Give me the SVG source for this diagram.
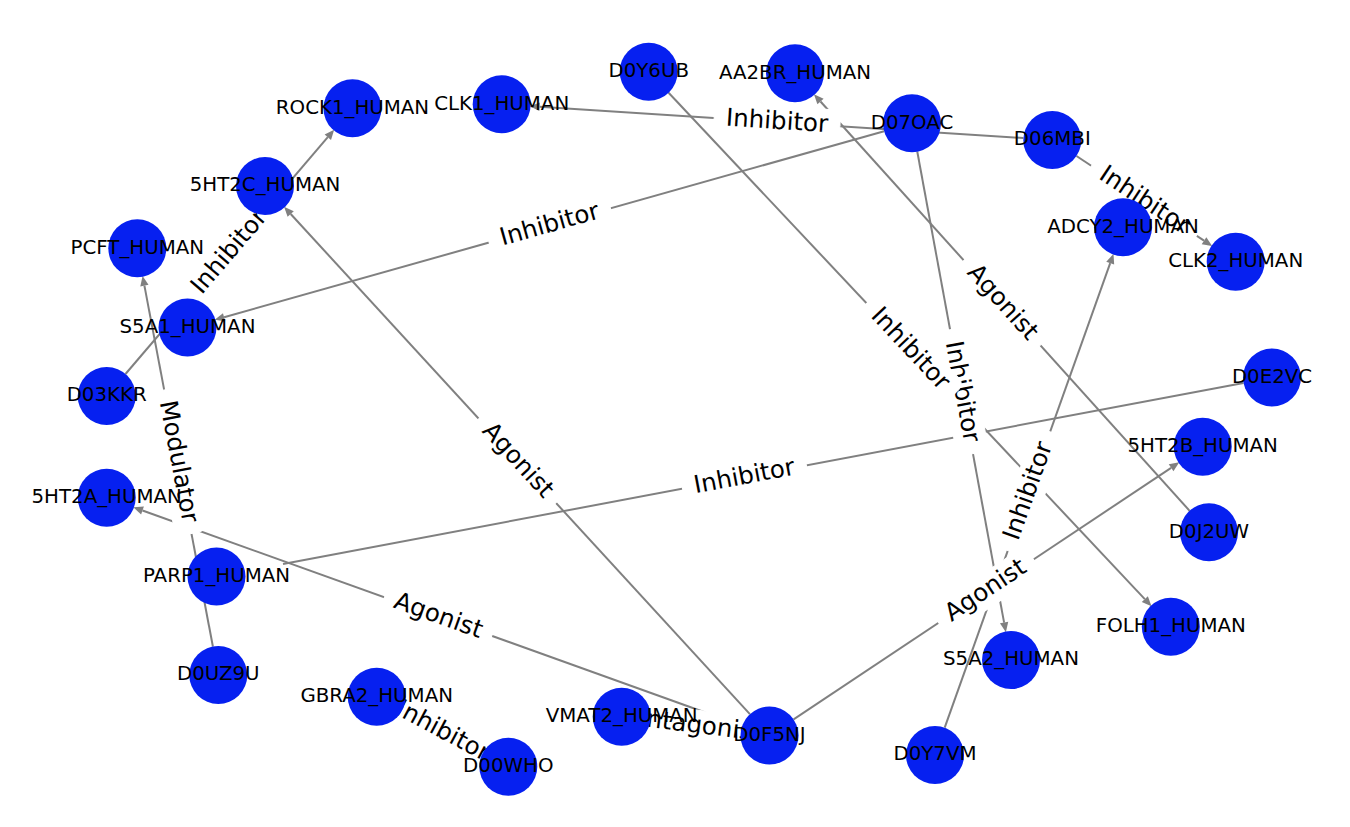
<svg xmlns="http://www.w3.org/2000/svg" width="1350" height="827" viewBox="0 0 1350 827">
<style>
.e{stroke:#808080;stroke-width:2;fill:none}
.ea{stroke:#808080;stroke-width:2;fill:none;marker-end:url(#arr)}
.lb rect{fill:#fff;stroke:#fff}
.lb text{font-family:"DejaVu Sans","Liberation Sans",sans-serif;font-size:24.5px;text-anchor:middle;fill:#000}
.n circle{fill:#0620f0}
.n text{font-family:"DejaVu Sans","Liberation Sans",sans-serif;font-size:19.8px;text-anchor:middle;fill:#000}
</style>
<defs>
<marker id="arr" markerUnits="userSpaceOnUse" markerWidth="10" markerHeight="10" viewBox="0 0 10 10" refX="0" refY="5" orient="auto" overflow="visible">
<path d="M0,0.8 L9.8,5 L0,9.2 z" fill="#808080"/>
</marker>
</defs>
<rect width="1350" height="827" fill="#fff"/>
<g id="edges">
<line class="ea" x1="125.5" y1="374" x2="327.8" y2="137.2"/>
<line class="ea" x1="1023.4" y1="138.1" x2="539.6" y2="106.8"/>
<line class="ea" x1="884.1" y1="131.2" x2="224.1" y2="317.2"/>
<line class="ea" x1="668.6" y1="92.8" x2="1144.8" y2="599.1"/>
<line class="ea" x1="1189.6" y1="510.8" x2="820.5" y2="101.5"/>
<line class="ea" x1="917.3" y1="151.8" x2="1004.1" y2="622.6"/>
<line class="ea" x1="944.7" y1="727.7" x2="1110.2" y2="263.1"/>
<line class="ea" x1="793.6" y1="719.4" x2="1171.1" y2="467.8"/>
<line class="ea" x1="749.9" y1="714.1" x2="290.7" y2="214"/>
<line class="e" x1="1243.5" y1="382.9" x2="283" y2="564"/>
<line class="ea" x1="212.9" y1="646.5" x2="144.4" y2="285.6"/>
<line class="ea" x1="742.2" y1="725.7" x2="142.5" y2="510.5"/>
<line class="ea" x1="1076.5" y1="156" x2="1204" y2="240.7"/>
<line class="ea" x1="482.7" y1="753.1" x2="410.2" y2="714.5"/>
<line class="ea" x1="740.7" y1="731.8" x2="659.4" y2="721.5"/>
</g>
<g id="edge-labels">
<g class="lb" transform="translate(229.8,252.2) rotate(-49.5)"><rect x="-63" y="-16" width="126" height="32" rx="8"/><text y="6.6">Inhibitor</text></g>
<g class="lb" transform="translate(777,122.2) rotate(3.7)"><rect x="-63" y="-16" width="126" height="32" rx="8"/><text y="6.6">Inhibitor</text></g>
<g class="lb" transform="translate(549.8,225.4) rotate(-15.7)"><rect x="-63" y="-16" width="126" height="32" rx="8"/><text y="6.6">Inhibitor</text></g>
<g class="lb" transform="translate(961.5,391.7) rotate(79.5)"><rect x="-63" y="-16" width="126" height="32" rx="8"/><text y="6.6">Inhibitor</text></g>
<g class="lb" transform="translate(909.8,349.3) rotate(46.8)"><rect x="-63" y="-16" width="126" height="32" rx="8"/><text y="6.6">Inhibitor</text></g>
<g class="lb" transform="translate(1002,302.8) rotate(48)"><rect x="-57" y="-16" width="114" height="32" rx="8"/><text y="6.6">Agonist</text></g>
<g class="lb" transform="translate(1029,491.2) rotate(-70.4)"><rect x="-63" y="-16" width="126" height="32" rx="8"/><text y="6.6">Inhibitor</text></g>
<g class="lb" transform="translate(986,591) rotate(-33.7)"><rect x="-57" y="-16" width="114" height="32" rx="8"/><text y="6.6">Agonist</text></g>
<g class="lb" transform="translate(517.3,460.8) rotate(47.4)"><rect x="-57" y="-16" width="114" height="32" rx="8"/><text y="6.6">Agonist</text></g>
<g class="lb" transform="translate(744.5,477.3) rotate(-10.7)"><rect x="-63" y="-16" width="126" height="32" rx="8"/><text y="6.6">Inhibitor</text></g>
<g class="lb" transform="translate(177.8,461.7) rotate(79.3)"><rect x="-73" y="-16" width="146" height="32" rx="8"/><text y="6.6">Modulator</text></g>
<g class="lb" transform="translate(438.1,616.6) rotate(19.7)"><rect x="-57" y="-16" width="114" height="32" rx="8"/><text y="6.6">Agonist</text></g>
<g class="lb" transform="translate(1144,200.8) rotate(33.6)"><rect x="-63" y="-16" width="126" height="32" rx="8"/><text y="6.6">Inhibitor</text></g>
<g class="lb" transform="translate(442.5,731.7) rotate(28)"><rect x="-63" y="-16" width="126" height="32" rx="8"/><text y="6.6">Inhibitor</text></g>
<g class="lb" transform="translate(695.6,726.1) rotate(7.2)"><rect x="-78" y="-16" width="156" height="32" rx="8"/><text y="6.6">Antagonist</text></g>
</g>
<g id="node-ROCK1_HUMAN" class="n"><circle cx="352.5" cy="108.3" r="29"/><text x="352.5" y="113.6">ROCK1_HUMAN</text></g>
<g id="node-CLK1_HUMAN" class="n"><circle cx="501.7" cy="104.3" r="29"/><text x="501.7" y="109.6">CLK1_HUMAN</text></g>
<g id="node-D0Y6UB" class="n"><circle cx="648.7" cy="71.7" r="29"/><text x="648.7" y="77">D0Y6UB</text></g>
<g id="node-AA2BR_HUMAN" class="n"><circle cx="795" cy="73.3" r="29"/><text x="795" y="78.6">AA2BR_HUMAN</text></g>
<g id="node-D07OAC" class="n"><circle cx="912" cy="123.3" r="29"/><text x="912" y="128.6">D07OAC</text></g>
<g id="node-D06MBI" class="n"><circle cx="1052.3" cy="140" r="29"/><text x="1052.3" y="145.3">D06MBI</text></g>
<g id="node-ADCY2_HUMAN" class="n"><circle cx="1123" cy="227.3" r="29"/><text x="1123" y="232.6">ADCY2_HUMAN</text></g>
<g id="node-CLK2_HUMAN" class="n"><circle cx="1235.7" cy="261.7" r="29"/><text x="1235.7" y="267">CLK2_HUMAN</text></g>
<g id="node-5HT2C_HUMAN" class="n"><circle cx="265" cy="186" r="29"/><text x="265" y="191.3">5HT2C_HUMAN</text></g>
<g id="node-PCFT_HUMAN" class="n"><circle cx="137.3" cy="248.3" r="29"/><text x="137.3" y="253.6">PCFT_HUMAN</text></g>
<g id="node-S5A1_HUMAN" class="n"><circle cx="187.5" cy="327.5" r="29"/><text x="187.5" y="332.8">S5A1_HUMAN</text></g>
<g id="node-D03KKR" class="n"><circle cx="106.7" cy="396" r="29"/><text x="106.7" y="401.3">D03KKR</text></g>
<g id="node-5HT2A_HUMAN" class="n"><circle cx="106.7" cy="497.7" r="29"/><text x="106.7" y="503">5HT2A_HUMAN</text></g>
<g id="node-PARP1_HUMAN" class="n"><circle cx="216.5" cy="576.5" r="29"/><text x="216.5" y="581.8">PARP1_HUMAN</text></g>
<g id="node-D0UZ9U" class="n"><circle cx="218.3" cy="675" r="29"/><text x="218.3" y="680.3">D0UZ9U</text></g>
<g id="node-GBRA2_HUMAN" class="n"><circle cx="376.7" cy="696.7" r="29"/><text x="376.7" y="702">GBRA2_HUMAN</text></g>
<g id="node-D00WHO" class="n"><circle cx="508.3" cy="766.7" r="29"/><text x="508.3" y="772">D00WHO</text></g>
<g id="node-VMAT2_HUMAN" class="n"><circle cx="621.7" cy="716.7" r="29"/><text x="621.7" y="722">VMAT2_HUMAN</text></g>
<g id="node-D0F5NJ" class="n"><circle cx="769.5" cy="735.5" r="29"/><text x="769.5" y="740.8">D0F5NJ</text></g>
<g id="node-D0Y7VM" class="n"><circle cx="935" cy="755" r="29"/><text x="935" y="760.3">D0Y7VM</text></g>
<g id="node-S5A2_HUMAN" class="n"><circle cx="1011" cy="660" r="29"/><text x="1011" y="665.3">S5A2_HUMAN</text></g>
<g id="node-FOLH1_HUMAN" class="n"><circle cx="1170.8" cy="626.8" r="29"/><text x="1170.8" y="632.1">FOLH1_HUMAN</text></g>
<g id="node-D0J2UW" class="n"><circle cx="1209" cy="532.3" r="29"/><text x="1209" y="537.6">D0J2UW</text></g>
<g id="node-5HT2B_HUMAN" class="n"><circle cx="1202.7" cy="446.7" r="29"/><text x="1202.7" y="452">5HT2B_HUMAN</text></g>
<g id="node-D0E2VC" class="n"><circle cx="1272" cy="377.5" r="29"/><text x="1272" y="382.8">D0E2VC</text></g>
</svg>
